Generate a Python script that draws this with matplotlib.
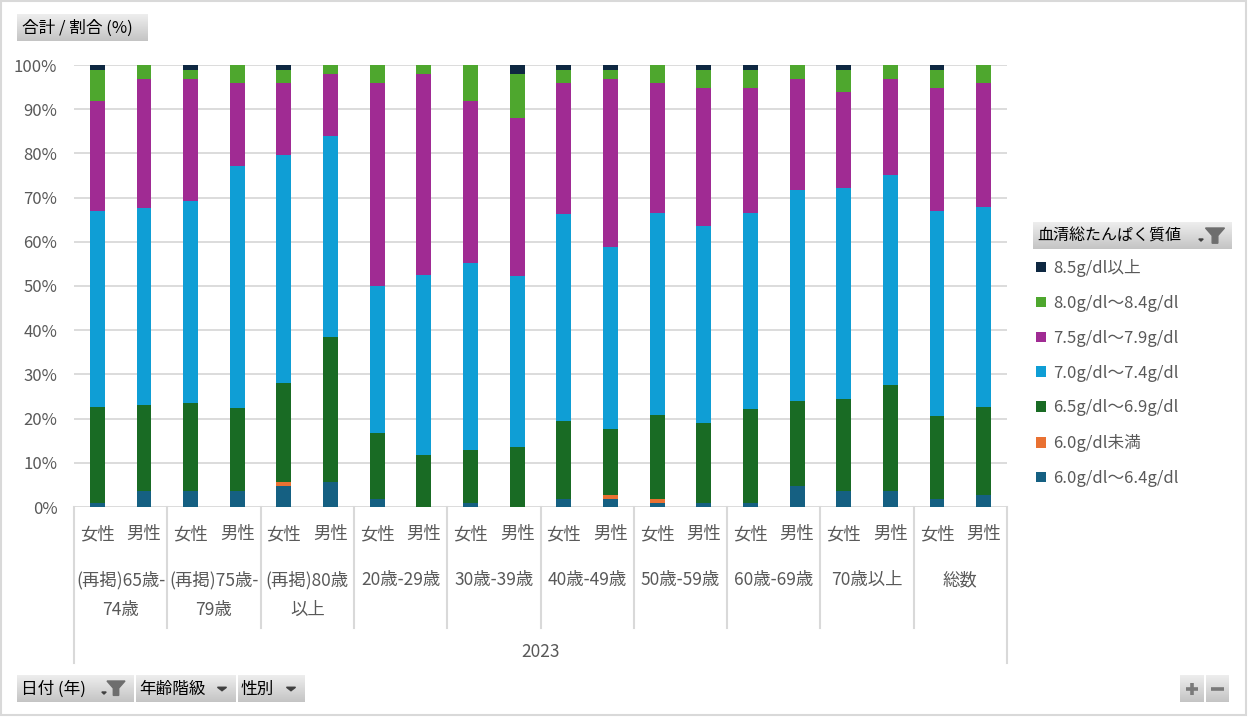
import matplotlib
matplotlib.use('Agg')
import matplotlib.pyplot as plt
import numpy as np
import matplotlib.transforms as mtransforms
from matplotlib.colors import LinearSegmentedColormap
from matplotlib.patches import Rectangle, Polygon

plt.rcParams['font.family'] = ['Noto Sans CJK JP', 'DejaVu Sans']

# ---------------- data ----------------
groups = ['(再掲)65歳-\n74歳', '(再掲)75歳-\n79歳', '(再掲)80歳\n以上', '20歳-29歳',
          '30歳-39歳', '40歳-49歳', '50歳-59歳', '60歳-69歳', '70歳以上', '総数']
sexes = ['女性', '男性']
year_label = '2023'

series_names = ['6.0g/dl～6.4g/dl', '6.0g/dl未満', '6.5g/dl～6.9g/dl', '7.0g/dl～7.4g/dl',
                '7.5g/dl～7.9g/dl', '8.0g/dl～8.4g/dl', '8.5g/dl以上']

s_60_64 = [0.8, 3.6, 3.6, 3.6, 4.8, 5.7, 1.7, 0.0, 0.8, 0.0,
           1.7, 1.7, 0.8, 0.8, 0.8, 4.8, 3.6, 3.6, 1.7, 2.7]
s_lt60 = [0.0, 0.0, 0.0, 0.0, 0.9, 0.0, 0.0, 0.0, 0.0, 0.0,
          0.0, 1.0, 1.0, 0.0, 0.0, 0.0, 0.0, 0.0, 0.0, 0.0]
s_65_69 = [21.9, 19.4, 20.0, 18.9, 22.4, 32.7, 15.1, 11.8, 12.2, 13.6,
           17.8, 15.0, 19.1, 18.1, 21.3, 19.2, 20.9, 23.9, 19.0, 20.0]
s_70_74 = [44.3, 44.6, 45.6, 54.6, 51.6, 45.5, 33.2, 40.7, 42.3, 38.6,
           46.7, 41.1, 45.6, 44.6, 44.4, 47.7, 47.6, 47.6, 46.3, 45.2]
s_75_79 = [24.9, 29.3, 27.7, 18.9, 16.3, 14.1, 46.0, 45.5, 36.6, 35.8,
           29.8, 38.1, 29.5, 31.3, 28.3, 25.2, 21.8, 21.8, 27.8, 28.1]
s_80_84 = [7.0, 3.1, 2.0, 4.0, 2.9, 2.0, 4.0, 2.0, 8.1, 10.0,
           2.9, 2.0, 4.0, 4.1, 4.1, 3.1, 5.0, 3.1, 4.1, 4.0]
s_85 = [1.1, 0.0, 1.1, 0.0, 1.1, 0.0, 0.0, 0.0, 0.0, 2.0,
        1.1, 1.1, 0.0, 1.1, 1.1, 0.0, 1.1, 0.0, 1.1, 0.0]

series_values = [s_60_64, s_lt60, s_65_69, s_70_74, s_75_79, s_80_84, s_85]
colors = ['#156082', '#E97132', '#196B24', '#0F9ED5', '#A02B93', '#4EA72E', '#0E2841']
yticks = list(range(0, 101, 10))

# ---------------- figure ----------------
W, H = 1248, 717
fig = plt.figure(figsize=(W / 100, H / 100), dpi=100)
fig.patch.set_facecolor('white')

TXT = '#595959'
GRID = '#D9D9D9'
FS = 12.5

# overlay axes in pixel coordinates (y downward) for decorations
ov = fig.add_axes([0, 0, 1, 1])
ov.set_xlim(0, W)
ov.set_ylim(H, 0)
ov.axis('off')
ov.patch.set_alpha(0)

gcmap = LinearSegmentedColormap.from_list('btn', ['#EEEEEE', '#C4C4C4'])
grad = np.linspace(0, 1, 64).reshape(-1, 1)


def button(x0, y0, x1, y1):
    ov.imshow(grad, cmap=gcmap, aspect='auto', extent=[x0, x1, y1, y0],
              origin='upper', interpolation='bilinear', zorder=2)


def funnel(cx, top, size=1.0, color='#6E6E6E'):
    w = 10 * size
    pts = [(cx - w, top), (cx + w, top), (cx + 3 * size, top + 8 * size),
           (cx + 3 * size, top + 16 * size), (cx - 3 * size, top + 16 * size),
           (cx - 3 * size, top + 8 * size)]
    ov.add_patch(Polygon(pts, closed=True, color=color, zorder=3))


def tri(cx, cy, w=4.5, h=3.5, color='#404040'):
    ov.add_patch(Polygon([(cx - w, cy - h / 2), (cx + w, cy - h / 2), (cx, cy + h / 2)],
                         closed=True, color=color, zorder=3))


# outer border
ov.add_patch(Rectangle((1, 1), W - 3, H - 3, fill=False, edgecolor=GRID, lw=1.5, zorder=1))

# top-left field button
button(17, 14, 148, 41)
ov.text(22, 28, '合計 / 割合 (%)', fontsize=12, color='black', va='center', ha='left', zorder=4)

# legend header button
button(1033, 222, 1232, 249)
ov.text(1037, 236, '血清総たんぱく質値', fontsize=11.5, color='black', va='center', ha='left', zorder=4)
tri(1201, 240, w=2.2, h=2.0, color='#404040')
funnel(1215, 228, size=0.95)

# bottom field buttons
button(17, 675, 134, 702)
ov.text(21, 689, '日付 (年)', fontsize=12, color='black', va='center', ha='left', zorder=4)
tri(104, 693, w=2.2, h=2.0)
funnel(116, 681, size=0.9)

button(136, 675, 236, 702)
ov.text(139, 689, '年齢階級', fontsize=12, color='black', va='center', ha='left', zorder=4)
tri(222, 689)

button(238, 675, 305, 702)
ov.text(241, 689, '性別', fontsize=12, color='black', va='center', ha='left', zorder=4)
tri(291, 689)

# +/- buttons
button(1180, 675, 1204, 702)
button(1206, 675, 1229, 702)
ov.plot([1186, 1198], [689, 689], color='#7A7A7A', lw=2.6, zorder=4, solid_capstyle='butt')
ov.plot([1192, 1192], [683, 695], color='#7A7A7A', lw=2.6, zorder=4, solid_capstyle='butt')
ov.plot([1211, 1224], [689, 689], color='#7A7A7A', lw=2.6, zorder=4, solid_capstyle='butt')

# ---------------- main axes ----------------
L, R, T, B = 74, 1007, 65, 507
ax = fig.add_axes([L / W, 1 - B / H, (R - L) / W, (B - T) / H])
ax.set_zorder(5)
ax.patch.set_alpha(0)

n = len(groups) * len(sexes)
x = np.arange(n)
bottom = np.zeros(n)
handles = []
for name, vals, col in zip(series_names, series_values, colors):
    v = np.array(vals, dtype=float)
    bc = ax.bar(x, v, width=0.32, bottom=bottom, color=col, label=name, zorder=3, linewidth=0)
    handles.append(bc)
    bottom += v

ax.set_xlim(-0.5, n - 0.5)
ax.set_ylim(0, 100)
ax.set_yticks(yticks)
ax.set_yticklabels([f'{t}%' for t in yticks])
ax.tick_params(axis='y', length=0, pad=12, labelsize=12, labelcolor=TXT)
ax.set_xticks([])
for s in ax.spines.values():
    s.set_visible(False)
ax.grid(axis='y', color=GRID, lw=1.3, zorder=0)
ax.set_axisbelow(True)

trans = mtransforms.blended_transform_factory(ax.transData, ax.transAxes)
ax_h = B - T


def fy_ax(py):
    return (B - py) / ax_h


# category separators
for k in range(len(groups) + 1):
    xs = -0.5 + 2 * k
    y_end = fy_ax(663) if k in (0, len(groups)) else fy_ax(628)
    ax.plot([xs, xs], [0, y_end], transform=trans, color=GRID, lw=1.5, clip_on=False, zorder=1)

# sex labels
for i in range(n):
    ax.text(x[i], fy_ax(534), sexes[i % 2], transform=trans, ha='center', va='center',
            fontsize=FS, color=TXT)

# group labels
for g, lab in enumerate(groups):
    cx = 2 * g + 0.5
    for j, line in enumerate(lab.split('\n')):
        ax.text(cx, fy_ax(580 + 30 * j), line, transform=trans, ha='center', va='center',
                fontsize=FS, color=TXT)

# year label
ax.text((n - 1) / 2, fy_ax(652), year_label, transform=trans, ha='center', va='center',
        fontsize=FS, color=TXT)

# legend
leg = fig.legend(handles[::-1], series_names[::-1], loc='upper left',
                 bbox_to_anchor=(1036 / W, 1 - 259 / H), frameon=False,
                 fontsize=12, labelcolor=TXT, handlelength=0.6, handleheight=0.6,
                 handletextpad=0.45, labelspacing=1.07, borderaxespad=0, borderpad=0)

fig.savefig('out.png', dpi=100, facecolor='white')
